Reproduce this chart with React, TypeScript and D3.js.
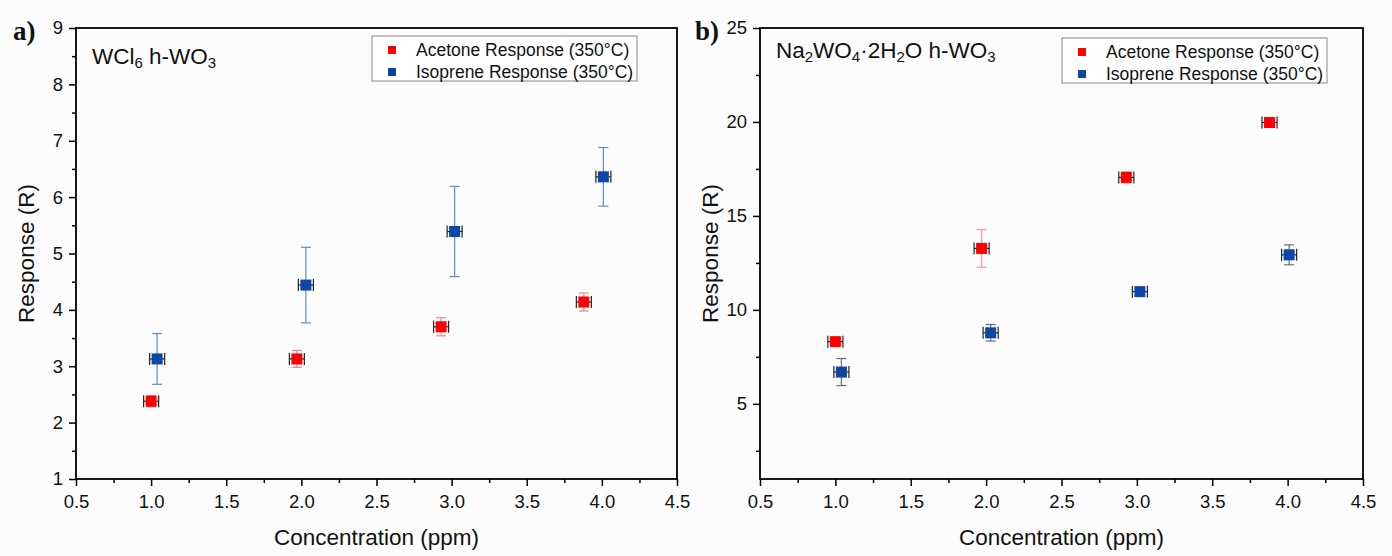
import * as d3 from "d3";
import { useEffect, useRef } from "react";

// concentrations (ppm), each series slightly offset in the plot
const acetoneConc = [1.0, 1.97, 2.93, 3.88];
const isopreneConc = [1.04, 2.03, 3.02, 4.01];
const concErr = 0.05;

// panel a) WCl6 h-WO3
const wclAcetone = [2.38, 3.13, 3.7, 4.14];
const wclAcetoneErr = [0.1, 0.15, 0.16, 0.16];
const wclIsoprene = [3.13, 4.44, 5.39, 6.36];
const wclIsopreneErr = [0.45, 0.67, 0.8, 0.52];

// panel b) Na2WO4·2H2O h-WO3
const naAcetone = [8.31, 13.27, 17.05, 19.97];
const naAcetoneErr = [0.15, 1.0, 0.3, 0.15];
const naIsoprene = [6.69, 8.78, 10.97, 12.93];
const naIsopreneErr = [0.72, 0.44, 0.2, 0.53];

const xTicks = [0.5, 1.0, 1.5, 2.0, 2.5, 3.0, 3.5, 4.0, 4.5];
const xMinorTicks = [0.75, 1.25, 1.75, 2.25, 2.75, 3.25, 3.75, 4.25];
const wclYTicks = [1, 2, 3, 4, 5, 6, 7, 8, 9];
const wclYMinor = [1.5, 2.5, 3.5, 4.5, 5.5, 6.5, 7.5, 8.5];
const naYTicks = [5, 10, 15, 20, 25];
const naYMinor = [2.5, 7.5, 12.5, 17.5, 22.5];

const legendLabels = ["Acetone Response (350°C)", "Isoprene Response (350°C)"];

const RED = "#ff0000";
const BLUE = "#0a47a6";
const FONT = "'Liberation Sans', Arial, sans-serif";

function App() {
  const ref = useRef(null);

  useEffect(() => {
    document.body.style.margin = "0";
    const svg = d3.select(ref.current);
    svg.selectAll("*").remove();

    svg
      .append("rect")
      .attr("width", 1392)
      .attr("height", 556)
      .attr("fill", "#fcfcfc");

    const panels = [
      {
        label: "a)",
        labelX: 13,
        left: 76,
        right: 677,
        yDomain: [1, 9],
        yTicks: wclYTicks,
        yMinor: wclYMinor,
        titleX: 34,
        acetone: wclAcetone,
        acetoneErr: wclAcetoneErr,
        isoprene: wclIsoprene,
        isopreneErr: wclIsopreneErr,
        acetoneErrColor: "#ff7070",
        isopreneErrColor: "#4a78c4",
        legendX: 372,
        legendY: 36,
        noteY: 64,
        note: [["WCl", false], ["6", true], [" h-WO", false], ["3", true]],
      },
      {
        label: "b)",
        labelX: 695,
        left: 760,
        right: 1363,
        yDomain: [1, 25],
        yTicks: naYTicks,
        yMinor: naYMinor,
        titleX: 718,
        acetone: naAcetone,
        acetoneErr: naAcetoneErr,
        isoprene: naIsoprene,
        isopreneErr: naIsopreneErr,
        acetoneErrColor: "#ff8a8a",
        isopreneErrColor: "#555",
        legendX: 1062,
        legendY: 38,
        noteY: 58,
        note: [
          ["Na", false],
          ["2", true],
          ["WO", false],
          ["4", true],
          ["·2H", false],
          ["2", true],
          ["O h-WO", false],
          ["3", true],
        ],
      },
    ];

    const top = 28;
    const bottom = 479;

    panels.forEach((p) => {
      const xScale = d3.scaleLinear().domain([0.5, 4.5]).range([p.left, p.right]);
      const yScale = d3.scaleLinear().domain(p.yDomain).range([bottom, top]);
      const g = svg.append("g");

      // x axis with major and minor ticks
      const xAxis = g
        .append("g")
        .attr("transform", `translate(0,${bottom})`)
        .call(
          d3.axisBottom(xScale).tickValues(xTicks).tickSize(7).tickPadding(9).tickFormat(d3.format(".1f"))
        );
      xAxis.select(".domain").remove();
      xAxis.selectAll("line").attr("stroke", "#000").attr("stroke-width", 1.5);
      xAxis.selectAll("text").attr("font-family", FONT).attr("font-size", 18.5).attr("fill", "#111");
      g.append("g")
        .attr("transform", `translate(0,${bottom})`)
        .call(d3.axisBottom(xScale).tickValues(xMinorTicks).tickSize(4).tickFormat(() => ""))
        .call((s) => s.select(".domain").remove())
        .selectAll("line")
        .attr("stroke", "#000")
        .attr("stroke-width", 1.5);

      // y axis
      const yAxis = g
        .append("g")
        .attr("transform", `translate(${p.left},0)`)
        .call(d3.axisLeft(yScale).tickValues(p.yTicks).tickSize(7).tickPadding(6).tickFormat(d3.format("d")));
      yAxis.select(".domain").remove();
      yAxis.selectAll("line").attr("stroke", "#000").attr("stroke-width", 1.5);
      yAxis.selectAll("text").attr("font-family", FONT).attr("font-size", 18.5).attr("fill", "#111");
      g.append("g")
        .attr("transform", `translate(${p.left},0)`)
        .call(d3.axisLeft(yScale).tickValues(p.yMinor).tickSize(4).tickFormat(() => ""))
        .call((s) => s.select(".domain").remove())
        .selectAll("line")
        .attr("stroke", "#000")
        .attr("stroke-width", 1.5);

      // frame
      g.append("rect")
        .attr("x", p.left)
        .attr("y", top)
        .attr("width", p.right - p.left)
        .attr("height", bottom - top)
        .attr("fill", "none")
        .attr("stroke", "#000")
        .attr("stroke-width", 1.8);

      // axis titles
      g.append("text")
        .attr("x", (p.left + p.right) / 2)
        .attr("y", 545)
        .attr("text-anchor", "middle")
        .attr("font-family", FONT)
        .attr("font-size", 22.5)
        .attr("fill", "#111")
        .text("Concentration (ppm)");
      g.append("text")
        .attr("transform", `translate(${p.titleX},${(top + bottom) / 2}) rotate(-90)`)
        .attr("text-anchor", "middle")
        .attr("font-family", FONT)
        .attr("font-size", 22.5)
        .attr("fill", "#111")
        .text("Response (R)");

      // panel label
      g.append("text")
        .attr("x", p.labelX)
        .attr("y", 40)
        .attr("font-family", "'Liberation Serif', 'Times New Roman', serif")
        .attr("font-weight", "bold")
        .attr("font-size", 27)
        .attr("fill", "#111")
        .text(p.label);

      // sample note with subscripts
      const note = g
        .append("text")
        .attr("x", p.left + 16)
        .attr("y", p.noteY)
        .attr("font-family", FONT)
        .attr("font-size", 22.5)
        .attr("fill", "#111");
      note
        .selectAll("tspan")
        .data(p.note)
        .enter()
        .append("tspan")
        .attr("font-size", (d) => (d[1] ? 15 : 22.5))
        .attr("baseline-shift", (d) => (d[1] ? "-25%" : "0"))
        .text((d) => d[0]);

      const series = [
        { conc: acetoneConc, vals: p.acetone, err: p.acetoneErr, color: RED, errColor: p.acetoneErrColor },
        { conc: isopreneConc, vals: p.isoprene, err: p.isopreneErr, color: BLUE, errColor: p.isopreneErrColor },
      ];

      series.forEach((s) => {
        const pts = s.vals.map((v, i) => ({ x: s.conc[i], y: v, e: s.err[i] }));

        // vertical error bars
        const yErr = g.append("g").attr("stroke", s.errColor).attr("stroke-width", 1.2).attr("opacity", 0.85);
        pts.forEach((d) => {
          const cx = xScale(d.x);
          yErr.append("line").attr("x1", cx).attr("x2", cx).attr("y1", yScale(d.y - d.e)).attr("y2", yScale(d.y + d.e));
          [d.y - d.e, d.y + d.e].forEach((v) => {
            yErr.append("line").attr("x1", cx - 5).attr("x2", cx + 5).attr("y1", yScale(v)).attr("y2", yScale(v));
          });
        });

        // horizontal error bars
        const xErr = g.append("g").attr("stroke", "#222").attr("stroke-width", 1.2);
        pts.forEach((d) => {
          const cy = yScale(d.y);
          xErr.append("line").attr("x1", xScale(d.x - concErr)).attr("x2", xScale(d.x + concErr)).attr("y1", cy).attr("y2", cy);
          [d.x - concErr, d.x + concErr].forEach((v) => {
            xErr.append("line").attr("x1", xScale(v)).attr("x2", xScale(v)).attr("y1", cy - 6).attr("y2", cy + 6);
          });
        });

        // square markers
        g.selectAll(null)
          .data(pts)
          .enter()
          .append("rect")
          .attr("x", (d) => xScale(d.x) - 5.5)
          .attr("y", (d) => yScale(d.y) - 5.5)
          .attr("width", 11)
          .attr("height", 11)
          .attr("fill", s.color);
      });

      // legend
      const legend = g.append("g").attr("transform", `translate(${p.legendX},${p.legendY})`);
      legend
        .append("rect")
        .attr("width", 265)
        .attr("height", 45)
        .attr("fill", "#fff")
        .attr("stroke", "#888")
        .attr("stroke-width", 1);
      legendLabels.forEach((lab, i) => {
        legend
          .append("rect")
          .attr("x", 16)
          .attr("y", 10 + i * 22)
          .attr("width", 8)
          .attr("height", 8)
          .attr("fill", i === 0 ? RED : BLUE);
        legend
          .append("text")
          .attr("x", 44)
          .attr("y", 20 + i * 22)
          .attr("font-family", FONT)
          .attr("font-size", 17.5)
          .attr("fill", "#111")
          .text(lab);
      });
    });
  }, []);

  return (
    <div>
      <svg ref={ref} width={1392} height={556} style={{ display: "block" }} />
    </div>
  );
}

export default App;
